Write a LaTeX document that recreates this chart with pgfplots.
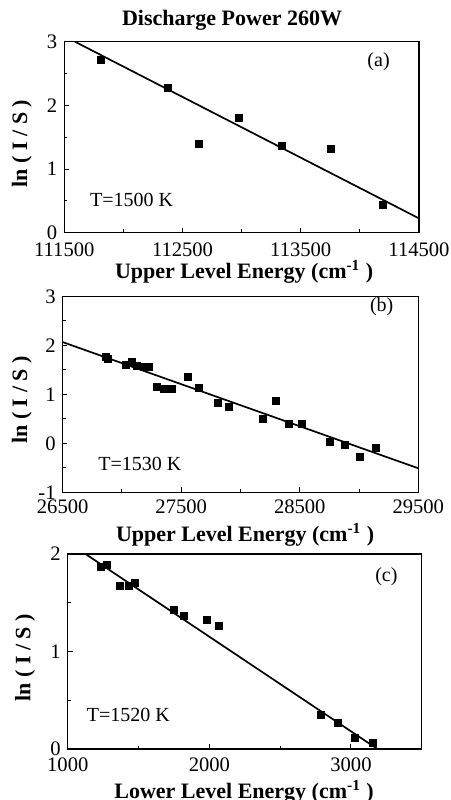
\documentclass[border=0pt]{standalone}
\usepackage{fontspec}
\setmainfont{Liberation Serif}
\usepackage{pgfplots}
\pgfplotsset{compat=1.18}
\pgfplotsset{
  panel/.style={
    scale only axis,
    axis line style={line width=0.6pt},
    tick align=inside,
    xtick pos=left, ytick pos=left,
    major tick length=2.4pt, minor tick length=1.6pt,
    every tick/.style={black, line width=0.5pt},
    scaled x ticks=false, scaled y ticks=false,
    /pgf/number format/assume math mode=true,
    /pgf/number format/1000 sep={},
    xticklabel={\pgfmathprintnumber[fixed,precision=0]{\tick}},
    tick label style={font=\fontsize{10.3}{12}\selectfont},
    label style={font=\fontsize{11}{13}\selectfont\bfseries},
    xlabel style={anchor=center},
    ylabel style={anchor=center},
    every axis title shift=0pt,
  },
  pts/.style={only marks, mark=square*, mark size=1.75pt, black},
  fit/.style={no markers, black, line width=0.85pt},
}
\tikzset{ann/.style={font=\fontsize{10}{12}\selectfont}}
\begin{document}
\begin{tikzpicture}[x=1pt,y=1pt]
\useasboundingbox (0,0) rectangle (225.5,400);

% ---------------- (a)
\begin{axis}[panel, at={(32.15pt,283.65pt)}, anchor=south west,
  width=177.35pt, height=95.5pt,
  xmin=111500, xmax=114500, ymin=0, ymax=3,
  xtick={111500,112500,113500,114500}, minor xtick={112000,113000,114000},
  ytick={0,1,2,3}, minor ytick={0.5,1.5,2.5},
  title={Discharge Power 260W},
  title style={font=\fontsize{11}{13}\selectfont\bfseries, at={(axis description cs:0.473,1.114)}, anchor=center},
  xlabel={Upper Level Energy (cm\textsuperscript{-1} )},
  ylabel={ln ( I / S )},
  xticklabel style={yshift=-1.5pt},
  xlabel style={at={(axis description cs:0.507,-0.204)}},
  ylabel style={at={(axis description cs:-0.12,0.467)}},
]
\addplot[pts] coordinates {
(111807,2.71) (112380,2.28) (112642,1.40) (112980,1.80)
(113341,1.37) (113753,1.32) (114198,0.43)};
\addplot[fit] coordinates {(111590,3.0) (114500,0.225)};
\node[ann] at (rel axis cs:0.886,0.896) {(a)};
\node[ann] at (rel axis cs:0.19,0.174) {T=1500 K};
\end{axis}

% ---------------- (b)
\begin{axis}[panel, at={(31.35pt,153.85pt)}, anchor=south west,
  width=177.8pt, height=98pt,
  xmin=26500, xmax=29500, ymin=-1, ymax=3,
  xtick={26500,27500,28500,29500}, minor xtick={27000,28000,29000},
  ytick={-1,0,1,2,3}, minor ytick={-0.5,0.5,1.5,2.5},
  xlabel={Upper Level Energy (cm\textsuperscript{-1} )},
  ylabel={ln ( I / S )},
  xlabel style={at={(axis description cs:0.513,-0.218)}},
  ylabel style={at={(axis description cs:-0.115,0.471)}},
]
\addplot[pts] coordinates {
(26865,1.76) (26879,1.72) (27034,1.61) (27082,1.67) (27130,1.58)
(27186,1.55) (27231,1.55) (27293,1.16) (27355,1.12) (27425,1.12)
(27560,1.36) (27647,1.13) (27813,0.82) (27900,0.74) (28192,0.50)
(28296,0.87) (28406,0.39) (28516,0.39) (28758,0.03) (28879,-0.03)
(29005,-0.28) (29140,-0.10)};
\addplot[fit] coordinates {(26500,2.065) (29500,-0.51)};
\node[ann] at (rel axis cs:0.897,0.947) {(b)};
\node[ann] at (rel axis cs:0.217,0.147) {T=1530 K};
\end{axis}

% ---------------- (c)
\begin{axis}[panel, at={(33.9pt,25.5pt)}, anchor=south west,
  width=177pt, height=97.5pt,
  xmin=1000, xmax=3500, ymin=0, ymax=2,
  xtick={1000,2000,3000}, minor xtick={1500,2500},
  ytick={0,1,2}, minor ytick={0.5,1.5},
  xlabel={Lower Level Energy (cm\textsuperscript{-1} )},
  ylabel={ln ( I / S )},
  xticklabel style={yshift=-1pt},
  xlabel style={at={(axis description cs:0.498,-0.218)}},
  ylabel style={at={(axis description cs:-0.121,0.467)}},
]
\addplot[pts] coordinates {
(1235,1.87) (1275,1.89) (1369,1.67) (1430,1.67) (1477,1.70)
(1746,1.43) (1823,1.37) (1985,1.32) (2068,1.26)
(2787,0.35) (2905,0.27) (3025,0.11) (3152,0.06)};
\addplot[fit] coordinates {(1125,2.0) (3187,0.0)};
\node[ann] at (rel axis cs:0.90,0.884) {(c)};
\node[ann] at (rel axis cs:0.171,0.174) {T=1520 K};
\end{axis}
\end{tikzpicture}
\end{document}
